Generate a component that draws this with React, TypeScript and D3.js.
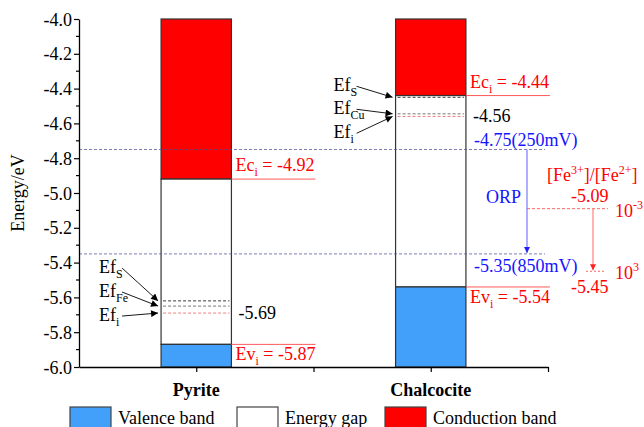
import React, { useEffect, useRef } from "react";
import * as d3 from "d3";

// Band-edge energies (eV) for each mineral
const minerals = ["Pyrite", "Chalcocite"];
const valenceTop = [-5.87, -5.54];
const conductionBottom = [-4.92, -4.44];
const fermiSulfur = [-5.62, -4.45];
const fermiMetal = [-5.65, -4.545];
const fermiIntrinsic = [-5.69, -4.56];
const metalSymbols = ["Fe", "Cu"];

// Solution redox levels
const orpLevels = [-4.75, -5.35];
const orpPotentials = ["250mV", "850mV"];
const ironRatioLevels = [-5.09, -5.45];
const ironRatioExponents = ["-3", "3"];

const energyTicks = [-6.0, -5.8, -5.6, -5.4, -5.2, -5.0, -4.8, -4.6, -4.4, -4.2, -4.0];
const energyMinorTicks = [-5.9, -5.7, -5.5, -5.3, -5.1, -4.9, -4.7, -4.5, -4.3, -4.1];
const legendLabels = ["Valence band", "Energy gap", "Conduction band"];

const W = 644;
const H = 427;
const FONT = "'Liberation Serif', 'Times New Roman', serif";
const RED = "#ff0000";
const BLUE_FILL = "#42a0fb";
const BLUE_TEXT = "#1414ff";
const legendFills = [BLUE_FILL, "#ffffff", RED];

const x = d3.scaleLinear().domain([0.5, 2.5]).range([79, 548]);
const y = d3.scaleLinear().domain([-6, -4]).range([367, 19]);
const halfBar = x(1.15) - x(1);

export default function App() {
  const axisRef = useRef<SVGGElement>(null);

  useEffect(() => {
    const g = d3.select(axisRef.current);
    g.selectAll("*").remove();

    const left = g
      .append("g")
      .attr("transform", `translate(${x(0.5)},0)`)
      .call(
        d3
          .axisLeft(y)
          .tickValues(energyTicks)
          .tickFormat((d: any) => (+d).toFixed(1))
          .tickSize(5)
          .tickSizeOuter(0)
          .tickPadding(2)
      );
    left.attr("font-family", FONT).attr("font-size", 18);
    left.selectAll("text").attr("fill", "#000").attr("dy", "0.34em");
    left.selectAll("line").attr("stroke", "#000").attr("stroke-width", 1.2);
    left.select(".domain").attr("stroke", "#000").attr("stroke-width", 1.3);

    left
      .selectAll("line.minor")
      .data(energyMinorTicks)
      .enter()
      .append("line")
      .attr("class", "minor")
      .attr("x1", -3)
      .attr("x2", 0)
      .attr("y1", (d) => y(d))
      .attr("y2", (d) => y(d))
      .attr("stroke", "#000")
      .attr("stroke-width", 1.2);

    const bottom = g
      .append("g")
      .attr("transform", `translate(0,${y(-6)})`)
      .call(
        d3
          .axisBottom(x)
          .tickValues([1, 1.5, 2, 2.5])
          .tickFormat(() => "")
          .tickSize(5)
          .tickSizeOuter(0)
      );
    bottom.selectAll("line").attr("stroke", "#000").attr("stroke-width", 1.2);
    bottom.select(".domain").attr("stroke", "#000").attr("stroke-width", 1.3);
  }, []);

  return (
    <svg
      width={W}
      height={H}
      style={{ position: "absolute", left: 0, top: 0, background: "#fff" }}
      fontFamily={FONT}
      fontSize={18}
    >
      <defs>
        <marker id="headBlack" viewBox="0 0 10 10" refX="10" refY="5" markerWidth="11" markerHeight="7" markerUnits="userSpaceOnUse" orient="auto">
          <path d="M0,0 L10,5 L0,10 z" fill="#000" />
        </marker>
        <marker id="headBlue" viewBox="0 0 10 10" refX="10" refY="5" markerWidth="9" markerHeight="6" markerUnits="userSpaceOnUse" orient="auto">
          <path d="M0,0 L10,5 L0,10 z" fill="#2020ff" />
        </marker>
        <marker id="headRed" viewBox="0 0 10 10" refX="10" refY="5" markerWidth="9" markerHeight="6" markerUnits="userSpaceOnUse" orient="auto">
          <path d="M0,0 L10,5 L0,10 z" fill="#ff2020" />
        </marker>
      </defs>

      {/* Band columns */}
      {minerals.map((m, i) => {
        const xc = x(i + 1);
        const x0 = xc - halfBar;
        const w = halfBar * 2;
        return (
          <g key={m}>
            <rect x={x0} y={y(-4)} width={w} height={y(conductionBottom[i]) - y(-4)} fill={RED} stroke="#333" strokeWidth={1.2} />
            <rect x={x0} y={y(conductionBottom[i])} width={w} height={y(valenceTop[i]) - y(conductionBottom[i])} fill="#fff" stroke="#333" strokeWidth={1.2} />
            <rect x={x0} y={y(valenceTop[i])} width={w} height={y(-6) - y(valenceTop[i])} fill={BLUE_FILL} stroke="#333" strokeWidth={1.2} />
            {/* Fermi levels inside the gap */}
            <line x1={x0 + 2} x2={x0 + w - 2} y1={y(fermiSulfur[i])} y2={y(fermiSulfur[i])} stroke="#222" strokeWidth={0.9} strokeDasharray="3,2" />
            <line x1={x0 + 2} x2={x0 + w - 2} y1={y(fermiMetal[i])} y2={y(fermiMetal[i])} stroke="#666" strokeWidth={0.9} strokeDasharray="3,2" />
            <line x1={x0 + 2} x2={x0 + w - 2} y1={y(fermiIntrinsic[i])} y2={y(fermiIntrinsic[i])} stroke="#f07070" strokeWidth={0.9} strokeDasharray="3,2" />
          </g>
        );
      })}

      {/* ORP reference levels */}
      {orpLevels.map((v, i) => (
        <line key={"orp" + i} x1={x(0.5)} x2={545} y1={y(v)} y2={y(v)} stroke="#4a4a9a" strokeOpacity={0.9} strokeWidth={0.8} strokeDasharray="3,2" />
      ))}

      {/* Band edge annotations */}
      {minerals.map((m, i) => {
        const xc = x(i + 1);
        const xr = xc + halfBar;
        const x0 = xc - halfBar;
        const ec = conductionBottom[i];
        const ev = valenceTop[i];
        const rows =
          i === 0
            ? [-40, -16, 8].map((o) => y(fermiIntrinsic[i]) + o)
            : [-6, 17, 41].map((o) => y(fermiSulfur[i]) + o);
        const targets = [fermiSulfur[i], fermiMetal[i], fermiIntrinsic[i]];
        const subs = ["S", metalSymbols[i], "i"];
        return (
          <g key={"ann" + m}>
            <line x1={xr} x2={xr + 84} y1={y(ec)} y2={y(ec)} stroke="#ff5a5a" strokeWidth={1} />
            <text x={xr + 4} y={y(ec) - 8} fill={RED}>
              Ec<tspan dy={5} fontSize={12}>i</tspan>
              <tspan dy={-5}> = {ec.toFixed(2)}</tspan>
            </text>
            <line x1={xr} x2={xr + 84} y1={y(ev)} y2={y(ev)} stroke="#ff5a5a" strokeWidth={1} />
            <text x={xr + 4} y={y(ev) + 16} fill={RED}>
              Ev<tspan dy={5} fontSize={12}>i</tspan>
              <tspan dy={-5}> = {ev.toFixed(2)}</tspan>
            </text>
            <text x={xr + 7} y={y(fermiIntrinsic[i]) + 6} fill="#000">
              {fermiIntrinsic[i].toFixed(2)}
            </text>
            {rows.map((by, k) => (
              <g key={k}>
                <text x={x0 - 62} y={by} fill="#000">
                  Ef<tspan dy={5} fontSize={12}>{subs[k]}</tspan>
                </text>
                <line x1={x0 - 39} y1={by - 5} x2={x0 - 3} y2={y(targets[k])} stroke="#000" strokeWidth={0.9} markerEnd="url(#headBlack)" />
              </g>
            ))}
          </g>
        );
      })}

      {/* ORP arrow and labels */}
      <line x1={527} x2={527} y1={y(orpLevels[0])} y2={y(orpLevels[1]) - 1} stroke="#7a7aff" strokeWidth={1.2} markerEnd="url(#headBlue)" />
      <text x={486} y={(y(orpLevels[0]) + y(orpLevels[1])) / 2 + 1} fill={BLUE_TEXT}>ORP</text>
      <text x={474} y={y(orpLevels[0]) - 4} fill={BLUE_TEXT}>
        {orpLevels[0].toFixed(2)}({orpPotentials[0]})
      </text>
      <text x={474} y={y(orpLevels[1]) + 18} fill={BLUE_TEXT}>
        {orpLevels[1].toFixed(2)}({orpPotentials[1]})
      </text>

      {/* Fe3+/Fe2+ ratio levels */}
      <line x1={527} x2={608} y1={y(ironRatioLevels[0])} y2={y(ironRatioLevels[0])} stroke="#ff4040" strokeWidth={0.8} strokeDasharray="3,2" />
      <line x1={586} x2={606} y1={y(ironRatioLevels[1])} y2={y(ironRatioLevels[1])} stroke="#ff4040" strokeWidth={0.8} strokeDasharray="2,2" />
      <line x1={593} x2={593} y1={y(ironRatioLevels[0])} y2={y(ironRatioLevels[1]) - 1} stroke="#ff8080" strokeWidth={1.2} markerEnd="url(#headRed)" />
      <text x={547} y={181} fill={RED}>
        [Fe<tspan dy={-7} fontSize={12}>3+</tspan>
        <tspan dy={7}>]/[Fe</tspan>
        <tspan dy={-7} fontSize={12}>2+</tspan>
        <tspan dy={7}>]</tspan>
      </text>
      <text x={571} y={y(ironRatioLevels[0]) - 7} fill={RED}>{ironRatioLevels[0].toFixed(2)}</text>
      <text x={571} y={y(ironRatioLevels[1]) + 22} fill={RED}>{ironRatioLevels[1].toFixed(2)}</text>
      {ironRatioLevels.map((v, i) => (
        <text key={"exp" + i} x={615} y={y(v) + 8} fill={RED}>
          10<tspan dy={-8} fontSize={12}>{ironRatioExponents[i]}</tspan>
        </text>
      ))}

      {/* Axes */}
      <g ref={axisRef} />
      <text transform={`translate(24,${y(-5)}) rotate(-90)`} textAnchor="middle" fill="#000">Energy/eV</text>
      {minerals.map((m, i) => (
        <text key={"cat" + m} x={x(i + 1)} y={396} textAnchor="middle" fontWeight="bold" fill="#000">{m}</text>
      ))}

      {/* Legend */}
      {legendLabels.map((lab, i) => {
        const lx = [70, 237, 385][i];
        return (
          <g key={lab}>
            <rect x={lx} y={407} width={41} height={22} fill={legendFills[i]} stroke="#444" strokeWidth={1.2} />
            <text x={lx + 48} y={424} fill="#000">{lab}</text>
          </g>
        );
      })}
    </svg>
  );
}
